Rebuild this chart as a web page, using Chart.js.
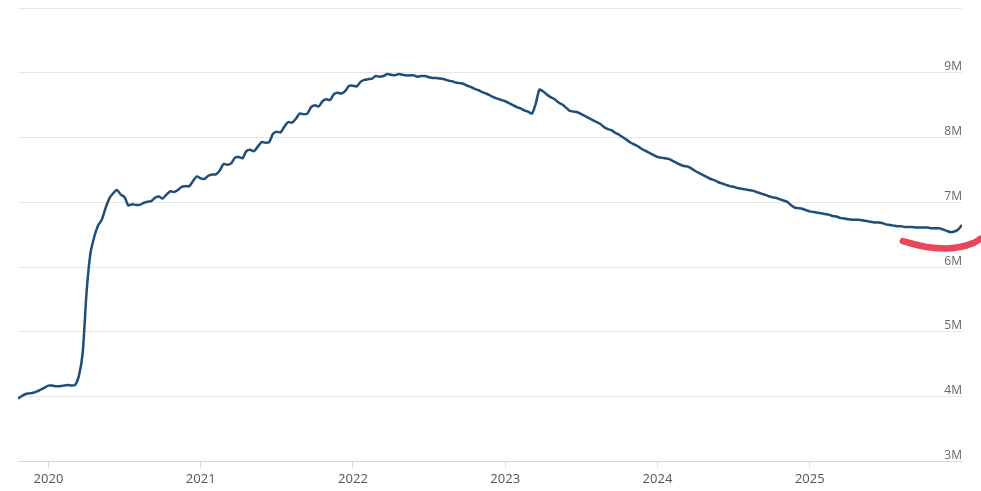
<!DOCTYPE html>
<html>
<head>
<meta charset="utf-8">
<script src="https://cdn.jsdelivr.net/npm/chart.js@4.4.1/dist/chart.umd.min.js"></script>
<style>
  html, body { margin: 0; padding: 0; background: #ffffff; }
  #wrap { width: 981px; height: 491px; position: relative; }
</style>
</head>
<body>
<div id="wrap"><canvas id="c"></canvas></div>
<script>
// Time positions (decimal years), one every 0.025 year
const years = [
  2019.8,2019.825,2019.85,2019.875,2019.9,2019.925,2019.95,2019.975,
  2020,2020.025,2020.05,2020.075,2020.1,2020.125,2020.15,2020.175,2020.2,2020.225,2020.25,2020.275,2020.3,2020.325,2020.35,2020.375,2020.4,2020.425,2020.45,2020.475,2020.5,2020.525,2020.55,2020.575,2020.6,2020.625,2020.65,2020.675,2020.7,2020.725,2020.75,2020.775,2020.8,2020.825,2020.85,2020.875,2020.9,2020.925,2020.95,2020.975,
  2021,2021.025,2021.05,2021.075,2021.1,2021.125,2021.15,2021.175,2021.2,2021.225,2021.25,2021.275,2021.3,2021.325,2021.35,2021.375,2021.4,2021.425,2021.45,2021.475,2021.5,2021.525,2021.55,2021.575,2021.6,2021.625,2021.65,2021.675,2021.7,2021.725,2021.75,2021.775,2021.8,2021.825,2021.85,2021.875,2021.9,2021.925,2021.95,2021.975,
  2022,2022.025,2022.05,2022.075,2022.1,2022.125,2022.15,2022.175,2022.2,2022.225,2022.25,2022.275,2022.3,2022.325,2022.35,2022.375,2022.4,2022.425,2022.45,2022.475,2022.5,2022.525,2022.55,2022.575,2022.6,2022.625,2022.65,2022.675,2022.7,2022.725,2022.75,2022.775,2022.8,2022.825,2022.85,2022.875,2022.9,2022.925,2022.95,2022.975,
  2023,2023.025,2023.05,2023.075,2023.1,2023.125,2023.15,2023.175,2023.2,2023.225,2023.25,2023.275,2023.3,2023.325,2023.35,2023.375,2023.4,2023.425,2023.45,2023.475,2023.5,2023.525,2023.55,2023.575,2023.6,2023.625,2023.65,2023.675,2023.7,2023.725,2023.75,2023.775,2023.8,2023.825,2023.85,2023.875,2023.9,2023.925,2023.95,2023.975,
  2024,2024.025,2024.05,2024.075,2024.1,2024.125,2024.15,2024.175,2024.2,2024.225,2024.25,2024.275,2024.3,2024.325,2024.35,2024.375,2024.4,2024.425,2024.45,2024.475,2024.5,2024.525,2024.55,2024.575,2024.6,2024.625,2024.65,2024.675,2024.7,2024.725,2024.75,2024.775,2024.8,2024.825,2024.85,2024.875,2024.9,2024.925,2024.95,2024.975,
  2025,2025.025,2025.05,2025.075,2025.1,2025.125,2025.15,2025.175,2025.2,2025.225,2025.25,2025.275,2025.3,2025.325,2025.35,2025.375,2025.4,2025.425,2025.45,2025.475,2025.5,2025.525,2025.55,2025.575,2025.6,2025.625,2025.65,2025.675,2025.7,2025.725,2025.75,2025.775,2025.8,2025.825,2025.85,2025.875,2025.9,2025.925,2025.95,2025.975,
  2026
];

// Series values, in millions
const values = [
  3.97,4.01,4.04,4.05,4.06,4.08,4.11,4.14,
  4.17,4.17,4.16,4.16,4.17,4.18,4.17,4.18,4.32,4.68,5.60,6.20,6.46,6.64,6.73,6.91,7.06,7.14,7.19,7.12,7.08,6.95,6.97,6.96,6.96,6.99,7.01,7.02,7.07,7.09,7.06,7.12,7.17,7.16,7.19,7.24,7.25,7.25,7.33,7.40,
  7.37,7.36,7.41,7.43,7.43,7.49,7.59,7.58,7.60,7.69,7.70,7.68,7.79,7.81,7.79,7.86,7.93,7.92,7.93,8.06,8.09,8.08,8.17,8.24,8.23,8.29,8.37,8.36,8.37,8.47,8.50,8.48,8.56,8.59,8.58,8.67,8.69,8.68,8.72,8.80,
  8.80,8.79,8.86,8.89,8.90,8.91,8.95,8.94,8.95,8.98,8.97,8.96,8.98,8.97,8.96,8.96,8.96,8.94,8.95,8.95,8.93,8.92,8.92,8.91,8.90,8.88,8.87,8.85,8.84,8.83,8.80,8.78,8.75,8.73,8.70,8.68,8.65,8.62,8.60,8.58,
  8.56,8.53,8.50,8.47,8.45,8.42,8.40,8.37,8.52,8.74,8.71,8.66,8.62,8.59,8.54,8.51,8.46,8.41,8.40,8.39,8.36,8.33,8.30,8.27,8.24,8.21,8.16,8.13,8.11,8.07,8.04,8.00,7.96,7.92,7.89,7.86,7.82,7.79,7.76,7.73,
  7.70,7.69,7.68,7.67,7.64,7.61,7.58,7.56,7.55,7.52,7.48,7.45,7.42,7.39,7.36,7.34,7.31,7.29,7.27,7.25,7.24,7.22,7.21,7.20,7.19,7.18,7.16,7.14,7.12,7.10,7.08,7.07,7.05,7.03,7.01,6.96,6.92,6.91,6.90,6.88,
  6.86,6.85,6.84,6.83,6.82,6.81,6.79,6.78,6.76,6.75,6.74,6.73,6.73,6.73,6.72,6.71,6.70,6.69,6.69,6.68,6.66,6.65,6.64,6.63,6.63,6.62,6.62,6.62,6.61,6.61,6.61,6.61,6.60,6.60,6.60,6.58,6.56,6.54,6.55,6.58,
  6.65
];

// Hand-drawn red highlight stroke under the latest values (listed right-to-left)
const markYears  = [2026.124, 2026.073, 2025.986, 2025.898, 2025.767, 2025.611];
const markValues = [6.44, 6.37, 6.31, 6.287, 6.31, 6.40];

// Axis tick labels
const yearTicks = [2020, 2021, 2022, 2023, 2024, 2025];
const yTicks = [3, 4, 5, 6, 7, 8, 9, 10];

const seriesPts = years.map((x, i) => ({ x: x, y: values[i] }));
const markPts = markYears.map((x, i) => ({ x: x, y: markValues[i] }));

new Chart(document.getElementById('c'), {
  type: 'line',
  data: {
    datasets: [
      {
        data: seriesPts,
        borderColor: '#1f4e79',
        borderWidth: 2.5,
        pointRadius: 0,
        tension: 0.25,
        fill: false
      },
      {
        data: markPts,
        borderColor: '#e8465d',
        borderWidth: 6.5,
        borderCapStyle: 'round',
        pointRadius: 0,
        tension: 0.4,
        fill: false,
        clip: false
      }
    ]
  },
  options: {
    responsive: true,
    maintainAspectRatio: false,
    animation: false,
    events: [],
    layout: { padding: { left: 18, right: 19, top: 8, bottom: 0 } },
    plugins: { legend: { display: false }, tooltip: { enabled: false } },
    scales: {
      x: {
        type: 'linear',
        min: 2019.8,
        max: 2026,
        afterBuildTicks: s => { s.ticks = yearTicks.map(v => ({ value: v })); },
        grid: { drawOnChartArea: false, drawTicks: true, tickLength: 6, color: '#d9d9d9' },
        border: { display: true, color: '#d9d9d9' },
        ticks: {
          autoSkip: false, maxRotation: 0, padding: 4,
          color: '#555', font: { family: 'Open Sans', size: 13 },
          callback: v => String(v)
        }
      },
      y: {
        position: 'right',
        min: 3,
        max: 10,
        afterBuildTicks: s => { s.ticks = yTicks.map(v => ({ value: v })); },
        grid: { color: '#e6e6e6', drawTicks: false },
        border: { display: false },
        ticks: {
          mirror: true, padding: 0, labelOffset: -6,
          color: '#666', font: { family: 'Open Sans', size: 12 },
          callback: v => (v === 10 ? '' : v + 'M')
        }
      }
    }
  }
});
</script>
</body>
</html>
